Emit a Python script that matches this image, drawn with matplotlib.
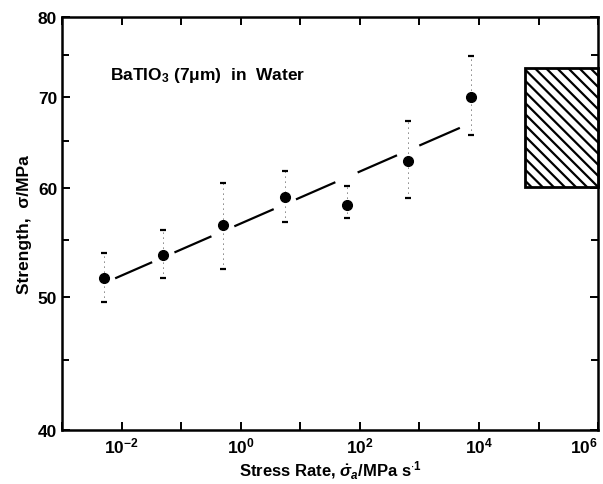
import numpy as np
import matplotlib
matplotlib.use("Agg")
import matplotlib.pyplot as plt
from matplotlib.patches import Rectangle
from matplotlib.ticker import FixedLocator, NullFormatter, FuncFormatter

plt.rcParams['font.family'] = ['Liberation Sans', 'DejaVu Sans']
plt.rcParams['font.weight'] = 'bold'
plt.rcParams['mathtext.fontset'] = 'custom'
plt.rcParams['mathtext.rm'] = 'Liberation Sans:bold'
plt.rcParams['mathtext.it'] = 'Liberation Sans:bold:italic'
plt.rcParams['mathtext.bf'] = 'Liberation Sans:bold'
plt.rcParams['hatch.linewidth'] = 1.6

# stress rate (MPa/s) and strength (MPa)
rate = [5e-3, 5e-2, 0.5, 5.5, 60, 650, 7300]
strength = [51.6, 53.7, 56.4, 59.1, 58.4, 62.8, 70.0]
err_hi = [53.8, 56.0, 60.6, 61.8, 60.2, 67.2, 74.9]
err_lo = [49.6, 51.6, 52.4, 56.7, 57.1, 59.0, 65.6]

# fitted line end points
fit_rate = [6e-3, 5.5e3]
fit_strength = [51.35, 66.6]

# inert strength band
band_rate = [5.8e4, 1e6]
band_strength = [60.1, 73.4]

fig = plt.figure(figsize=(6.03, 4.85), dpi=100)
ax = fig.add_axes([0.103, 0.111, 0.889, 0.852])
ax.set_xscale('log')
ax.set_yscale('log')
ax.set_xlim(1e-3, 1e6)
ax.set_ylim(40, 80)

# regression line, broken around each data point
lx = np.logspace(np.log10(fit_rate[0]), np.log10(fit_rate[1]), 600)
slope = (np.log10(fit_strength[1]) - np.log10(fit_strength[0])) / \
        (np.log10(fit_rate[1]) - np.log10(fit_rate[0]))
ly = 10 ** (np.log10(fit_strength[0]) + slope * (np.log10(lx) - np.log10(fit_rate[0])))
gap = np.zeros_like(lx, dtype=bool)
for r in rate:
    gap |= np.abs(np.log10(lx) - np.log10(r)) < 0.2
ly = np.ma.masked_where(gap, ly)
ax.plot(lx, ly, color='black', lw=1.6)

# data with error bars
ax.vlines(rate, err_lo, err_hi, color='black', lw=0.6, linestyles=(0, (1, 5)))
ax.plot(rate, err_hi, ls='none', marker='_', ms=5, mew=1.6, color='black')
ax.plot(rate, err_lo, ls='none', marker='_', ms=5, mew=1.6, color='black')
ax.plot(rate, strength, ls='none', marker='o', ms=7, color='black')

# hatched box
ax.add_patch(Rectangle((band_rate[0], band_strength[0]),
                       band_rate[1] - band_rate[0],
                       band_strength[1] - band_strength[0],
                       facecolor='white', edgecolor='black', lw=2,
                       hatch='\\\\\\', clip_on=False, zorder=3))

ax.text(6.4e-3, 72.6, r'BaTIO$_3$ (7μm)  in  Water', fontsize=12.5,
        fontweight='bold', ha='left', va='center')

# ticks
ax.xaxis.set_major_locator(FixedLocator([10.0 ** k for k in range(-3, 7)]))
ax.xaxis.set_minor_locator(FixedLocator([]))
ax.xaxis.set_major_formatter(FuncFormatter(
    lambda v, p: r'$10^{%d}$' % round(np.log10(v)) if round(np.log10(v)) % 2 == 0 else ''))
ax.yaxis.set_major_locator(FixedLocator([40, 50, 60, 70, 80]))
ax.yaxis.set_minor_locator(FixedLocator([45, 55, 65, 75]))
ax.yaxis.set_major_formatter(FuncFormatter(lambda v, p: '%d' % v))
ax.yaxis.set_minor_formatter(NullFormatter())
ax.tick_params(which='both', direction='in', top=True, right=True,
               width=1.4, labelsize=12.5)
ax.tick_params(which='major', length=6)
ax.tick_params(which='minor', length=5)
for s in ax.spines.values():
    s.set_linewidth(1.8)

fig.canvas.draw()
ax.get_xticklabels()[-1].set_horizontalalignment('right')
ax.get_xticklabels()[-1].set_x(1.4e6)

ax.set_xlabel(r'Stress Rate, $\dot{\sigma}_a$/MPa s$^{\cdot 1}$', fontsize=12,
              fontweight='bold', labelpad=3)
ax.set_ylabel('Strength,  σ/MPa', fontsize=12.5, fontweight='bold', labelpad=4)

fig.savefig('out.png', dpi=100)
